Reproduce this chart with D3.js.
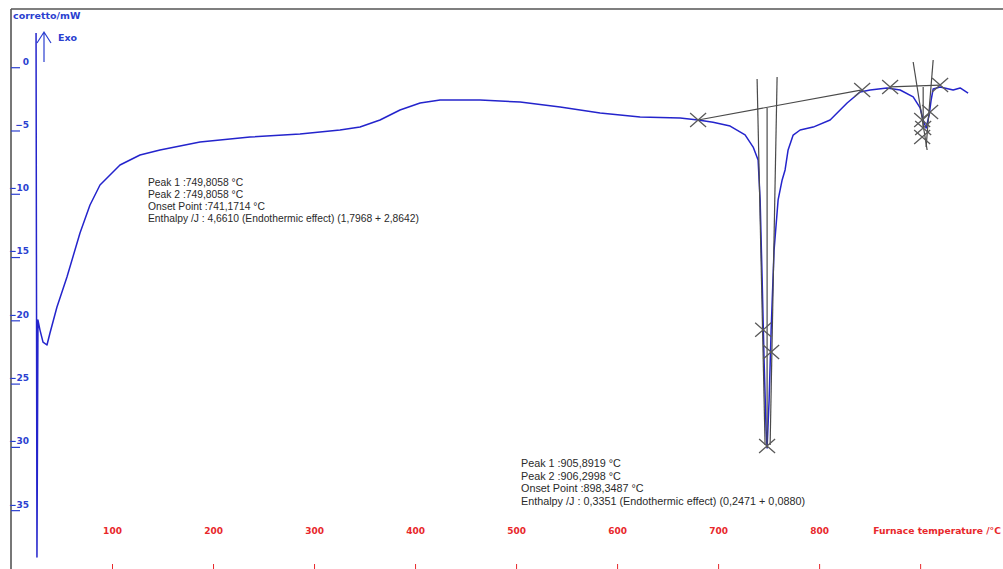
<!DOCTYPE html>
<html>
<head>
<meta charset="utf-8">
<script src="https://cdn.jsdelivr.net/npm/d3@7/dist/d3.min.js"></script>
<style>
  html, body { margin: 0; padding: 0; background: #ffffff; }
  svg { display: block; }
</style>
</head>
<body>
<svg id="chart" width="1003" height="569"></svg>
<script>
// ---------- DATA ----------
const temperature = [24.8, 25.7, 26.7, 28.7, 31.7, 35.6, 38.6, 45.5, 55.4, 68.3, 78.2, 88.1, 107.9, 127.7, 147.5,
  187.1, 236.6, 286.1, 325.7, 345.5, 365.3, 385.1, 405.0, 424.8, 464.4, 504.0, 543.6, 583.2, 622.8, 662.4,
  680.2, 695.0, 711.9, 726.7, 734.7, 739.6, 741.6, 743.6, 745.5, 747.5, 748.5, 750.5, 752.5, 755.4, 759.4,
  763.4, 766.3, 769.3, 774.3, 781.2, 794.1, 810.9, 827.7, 840.6, 850.5, 867.3, 880.2, 893.1, 900.0, 903.0,
  905.9, 908.9, 910.9, 912.9, 919.8, 932.7, 939.6, 947.5];
const heatFlow = [2.70, -38.71, -19.98, -20.77, -21.72, -21.95, -21.0, -18.95, -16.58, -13.1, -10.89, -9.31, -7.73, -6.94, -6.54,
  -5.91, -5.52, -5.28, -4.96, -4.73, -4.17, -3.38, -2.83, -2.59, -2.59, -2.75, -3.15, -3.62, -3.94, -4.01,
  -4.17, -4.35, -4.65, -5.35, -6.31, -7.33, -10.49, -16.81, -23.14, -28.67, -30.09, -26.3, -20.77, -14.45, -10.49,
  -8.91, -8.12, -6.54, -5.36, -4.96, -4.73, -4.17, -2.83, -1.96, -1.80, -1.64, -1.80, -2.35, -3.22, -4.17,
  -4.80, -3.78, -2.59, -1.72, -1.56, -1.80, -1.64, -2.04];

// construction (tangent / baseline) lines: [[T1, v1], [T2, v2]]
const constructionLines = [
  [[680.2, -4.17], [842.6, -1.79]],
  [[738.6, -0.93], [746.5, -29.85]],
  [[758.4, -0.77], [751.5, -29.85]],
  [[748.5, -3.22], [748.5, -30.09]],
  [[870.3, -1.56], [919.8, -1.41]],
  [[893.1, 0.41], [906.9, -6.54]],
  [[912.9, 0.57], [905.9, -6.31]],
  [[903.0, -1.56], [903.0, -4.80]]
];
const markerT = [680.2, 842.6, 870.3, 919.8, 744.6, 752.5, 748.5, 909.9, 902.0, 903.0, 902.0];
const markerV = [-4.17, -1.80, -1.56, -1.41, -20.75, -22.5, -29.93, -3.54, -4.17, -4.80, -5.52];

const yTicks = [0, -5, -10, -15, -20, -25, -30, -35];
const xTicks = [100, 200, 300, 400, 500, 600, 700, 800];
const xAxisTitle = "Furnace temperature /°C";
const xTitleTick = 900;
const yAxisTitle = "corretto/mW";
const exoLabel = "Exo";
const annotation1 = [
  "Peak 1 :749,8058 °C",
  "Peak 2 :749,8058 °C",
  "Onset Point :741,1714 °C",
  "Enthalpy /J : 4,6610 (Endothermic effect) (1,7968 + 2,8642)"
];
const annotation2 = [
  "Peak 1 :905,8919 °C",
  "Peak 2 :906,2998 °C",
  "Onset Point :898,3487 °C",
  "Enthalpy /J : 0,3351 (Endothermic effect) (0,2471 + 0,0880)"
];

// ---------- DRAW ----------
const svg = d3.select("#chart");
const W = 1003, H = 569;
const padLeft = 11, padTop = 9;

const x = d3.scaleLinear().domain([0, 985]).range([padLeft, padLeft + 995]);
const y = d3.scaleLinear().domain([4.6, -39.65]).range([padTop, H]);

const blue = "#2424cc";
const axisBlue = "#2b3fd0";
const red = "#e8282b";
const boldFont = "DejaVu Sans, Verdana, sans-serif";

// frame
svg.append("line").attr("x1", padLeft).attr("x2", padLeft).attr("y1", padTop).attr("y2", H)
  .attr("stroke", "#555").attr("stroke-width", 1.6);
svg.append("line").attr("x1", padLeft).attr("x2", W).attr("y1", padTop).attr("y2", padTop)
  .attr("stroke", "#555").attr("stroke-width", 1.4);

// y axis (ticks inside)
const yAxis = svg.append("g").attr("transform", `translate(${padLeft},0)`)
  .call(d3.axisRight(y).tickValues(yTicks).tickSize(9).tickFormat(d => d3.format("d")(d)));
yAxis.select(".domain").remove();
yAxis.selectAll(".tick line").attr("stroke", axisBlue).attr("stroke-width", 1.2);
yAxis.selectAll(".tick text")
  .attr("x", 18).attr("dy", "-0.35em").attr("text-anchor", "end")
  .attr("fill", axisBlue).attr("font-family", boldFont)
  .attr("font-weight", "bold").attr("font-size", "9px");

// x axis (ticks at bottom, labels above)
const xAll = xTicks.concat([xTitleTick]);
const xAxis = svg.append("g").attr("transform", `translate(0,${H})`)
  .call(d3.axisTop(x).tickValues(xAll).tickSize(5).tickFormat(d => d === xTitleTick ? "" : d3.format("d")(d)));
xAxis.select(".domain").remove();
xAxis.selectAll(".tick line").attr("stroke", red).attr("stroke-width", 1);
xAxis.selectAll(".tick text")
  .attr("y", -35).attr("dy", "0")
  .attr("fill", red).attr("font-family", boldFont)
  .attr("font-weight", "bold").attr("font-size", "9px");

svg.append("text").attr("x", x(xTitleTick) - 47).attr("y", H - 35)
  .attr("fill", red).attr("font-family", boldFont)
  .attr("font-weight", "bold").attr("font-size", "9.2px").text(xAxisTitle);

// y title and Exo arrow
svg.append("text").attr("x", 13).attr("y", 19)
  .attr("fill", axisBlue).attr("font-family", boldFont)
  .attr("font-weight", "bold").attr("font-size", "9.5px").text(yAxisTitle);
svg.append("text").attr("x", 58).attr("y", 41)
  .attr("fill", axisBlue).attr("font-family", boldFont)
  .attr("font-weight", "bold").attr("font-size", "9.5px").text(exoLabel);
svg.append("path").attr("d", "M44,62 L44,32 M37,43 L44,32 L51,43")
  .attr("fill", "none").attr("stroke", axisBlue).attr("stroke-width", 1.2);

// curve
const pts = temperature.map((t, i) => [t, heatFlow[i]]);
svg.append("path").datum(pts)
  .attr("fill", "none").attr("stroke", blue).attr("stroke-width", 1.5)
  .attr("stroke-linejoin", "round")
  .attr("d", d3.line().x(d => x(d[0])).y(d => y(d[1])));

// construction lines
svg.selectAll(".cl").data(constructionLines).enter().append("line")
  .attr("x1", d => x(d[0][0])).attr("y1", d => y(d[0][1]))
  .attr("x2", d => x(d[1][0])).attr("y2", d => y(d[1][1]))
  .attr("stroke", "#4a4a4a").attr("stroke-width", 1.2);

// cross markers
svg.selectAll(".mk").data(markerT.map((t, i) => [t, markerV[i]])).enter().append("path")
  .attr("transform", d => `translate(${x(d[0])},${y(d[1])})`)
  .attr("d", "M-8,-7 L8,7 M-8,7 L8,-7")
  .attr("fill", "none").attr("stroke", "#5a5a5a").attr("stroke-width", 1.3);

// annotations
function block(lines, x0, y0, fs, lh) {
  svg.append("g").selectAll("text").data(lines).enter().append("text")
    .attr("x", x0).attr("y", (d, i) => y0 + i * lh)
    .attr("fill", "#2a2a2a").attr("font-family", "Liberation Sans, Arial, sans-serif")
    .attr("font-size", fs + "px").text(d => d);
}
block(annotation1, 148, 185.5, 10.3, 12);
block(annotation2, 521, 467, 10.8, 12.5);
</script>
</body>
</html>
